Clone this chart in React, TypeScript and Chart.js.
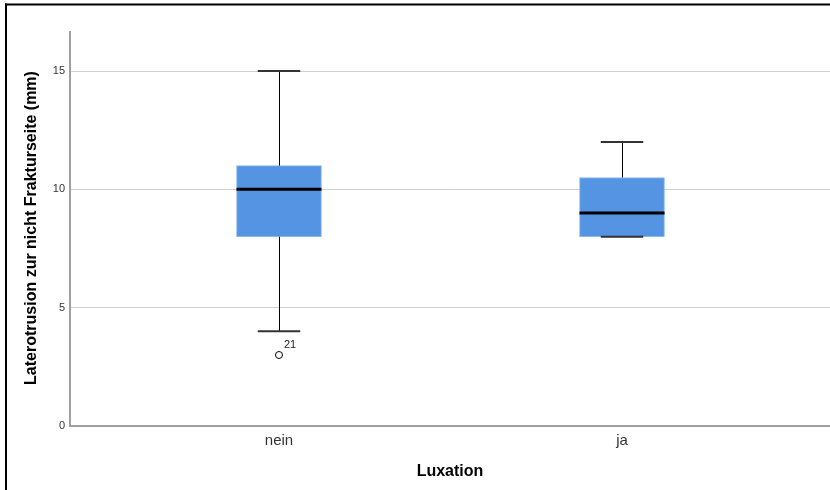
import React, { useEffect, useRef } from "react";
import { Chart, registerables } from "chart.js";

Chart.register(...registerables);

const categories = ["nein", "ja"];
const categoryPositions = [1, 2];
const q1Values = [8, 8];
const q3Values = [11, 10.5];
const medianValues = [10, 9];
const whiskerLowValues = [4, 8];
const whiskerHighValues = [15, 12];
const outlierCategoryIndex = [0];
const outlierValues = [3];
const outlierLabels = ["21"];
const yTickValues = [0, 5, 10, 15];

const yTitle = "Laterotrusion zur nicht Frakturseite (mm)";
const xTitle = "Luxation";
const FONT = "'Liberation Sans', Arial, sans-serif";

const CAP_RATIO = 0.5; // cap width relative to box width

const boxPlugin = {
  id: "boxExtras",
  beforeDraw(chart: any) {
    const ctx = chart.ctx;
    ctx.save();
    ctx.fillStyle = "#ffffff";
    ctx.fillRect(0, 0, chart.width, chart.height);
    ctx.restore();
  },
  afterDatasetsDraw(chart: any) {
    const ctx = chart.ctx;
    const xs = chart.scales.x;
    const ys = chart.scales.y;
    const bars = chart.getDatasetMeta(0).data;
    ctx.save();
    categoryPositions.forEach((pos, i) => {
      const bar = bars[i];
      const half = bar.width / 2;
      const cx = Math.round(xs.getPixelForValue(pos)) + 0.5;
      const bl = bar.x - half;
      const br = bar.x + half;
      const cl = bar.x - half * CAP_RATIO;
      const cr = bar.x + half * CAP_RATIO;
      const yq1 = ys.getPixelForValue(q1Values[i]);
      const yq3 = ys.getPixelForValue(q3Values[i]);
      const ylo = ys.getPixelForValue(whiskerLowValues[i]);
      const yhi = ys.getPixelForValue(whiskerHighValues[i]);
      const ymed = ys.getPixelForValue(medianValues[i]);
      ctx.strokeStyle = "#000";
      ctx.lineWidth = 1;
      ctx.beginPath();
      ctx.moveTo(cx, yq3);
      ctx.lineTo(cx, yhi);
      ctx.moveTo(cx, yq1);
      ctx.lineTo(cx, ylo);
      ctx.stroke();
      ctx.strokeStyle = "#333";
      ctx.lineWidth = 2;
      ctx.beginPath();
      ctx.moveTo(cl, yhi);
      ctx.lineTo(cr, yhi);
      ctx.moveTo(cl, ylo);
      ctx.lineTo(cr, ylo);
      ctx.stroke();
      ctx.strokeStyle = "#000";
      ctx.lineWidth = 3;
      ctx.beginPath();
      ctx.moveTo(bl, ymed);
      ctx.lineTo(br, ymed);
      ctx.stroke();
    });
    outlierValues.forEach((v, k) => {
      const pos = categoryPositions[outlierCategoryIndex[k]];
      const px = xs.getPixelForValue(pos);
      const py = ys.getPixelForValue(v);
      ctx.strokeStyle = "#000";
      ctx.lineWidth = 1;
      ctx.beginPath();
      ctx.arc(px, py, 3.5, 0, Math.PI * 2);
      ctx.stroke();
      ctx.fillStyle = "#222";
      ctx.font = `11px ${FONT}`;
      ctx.textAlign = "left";
      ctx.textBaseline = "alphabetic";
      ctx.fillText(outlierLabels[k], px + 5, py - 7);
    });
    ctx.restore();
  },
  afterDraw(chart: any) {
    const ctx = chart.ctx;
    const area = chart.chartArea;
    ctx.save();
    ctx.fillStyle = "#000";
    ctx.font = `bold 16px ${FONT}`;
    ctx.textAlign = "center";
    ctx.textBaseline = "middle";
    ctx.fillText(xTitle, (area.left + area.right) / 2, 472);
    ctx.translate(32, 228);
    ctx.rotate(-Math.PI / 2);
    ctx.fillText(yTitle, 0, 0);
    ctx.restore();
    ctx.save();
    ctx.fillStyle = "#000";
    ctx.fillRect(5, 3.5, chart.width - 5, 2);
    ctx.fillRect(5, 3.5, 2, chart.height - 3.5);
    ctx.restore();
  },
};

export default function App() {
  const ref = useRef<HTMLCanvasElement | null>(null);
  useEffect(() => {
    if (!ref.current) return;
    const chart = new Chart(ref.current, {
      type: "bar",
      data: {
        datasets: [
          {
            data: categoryPositions.map((p, i) => ({ x: p, y: [q1Values[i], q3Values[i]] })) as any,
            backgroundColor: "#5594e2",
            borderColor: "#8cb9ef",
            borderWidth: 1,
            borderSkipped: false,
            barThickness: 85,
            grouped: false,
          } as any,
        ],
      },
      options: {
        animation: false,
        responsive: false,
        maintainAspectRatio: false,
        layout: { padding: { top: 32, left: 0, right: 0, bottom: 0 } },
        plugins: { legend: { display: false }, tooltip: { enabled: false } },
        scales: {
          x: {
            type: "linear",
            offset: false,
            min: 0.3907,
            max: 2.6064,
            grid: { display: false, drawTicks: false, offset: false },
            border: { color: "#a0a0a0", width: 2 },
            afterBuildTicks: (scale: any) => {
              scale.ticks = categoryPositions.map((v) => ({ value: v }));
            },
            afterFit: (scale: any) => {
              scale.height = 64;
            },
            ticks: {
              padding: 6,
              color: "#333",
              font: { family: FONT, size: 15 },
              callback: (v: any) => {
                const idx = categoryPositions.indexOf(Number(v));
                return idx >= 0 ? categories[idx] : "";
              },
            },
          } as any,
          y: {
            type: "linear",
            min: 0,
            max: 16.65,
            grid: { color: "#cfcfcf", lineWidth: 1, drawTicks: false },
            border: { color: "#a0a0a0", width: 2 },
            afterBuildTicks: (scale: any) => {
              scale.ticks = yTickValues.map((v) => ({ value: v }));
            },
            afterFit: (scale: any) => {
              scale.width = 70;
            },
            ticks: {
              padding: 5,
              color: "#333",
              font: { family: FONT, size: 11 },
            },
          } as any,
        },
      },
      plugins: [boxPlugin],
    });
    return () => chart.destroy();
  }, []);
  return (
    <div style={{ position: "absolute", left: 0, top: 0, width: 830, height: 490 }}>
      <canvas ref={ref} width={830} height={490} style={{ display: "block", width: 830, height: 490 }} />
    </div>
  );
}
